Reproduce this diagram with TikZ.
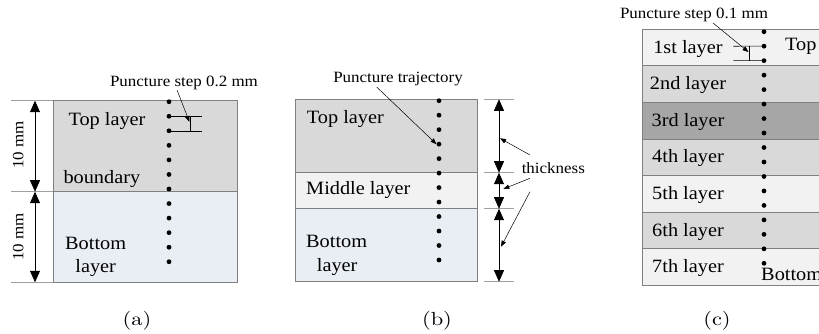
\documentclass[tikz,border=0pt]{standalone}
\usepackage{fontspec}
\setmainfont{Liberation Serif}[FakeStretch=1.08]
\newfontfamily\capfont{lmroman10-regular}[Extension=.otf,FakeStretch=1.18]
\usetikzlibrary{arrows.meta}

\definecolor{greyfill}{HTML}{D9D9D9}
\definecolor{palefill}{HTML}{F2F2F2}
\definecolor{bluefill}{HTML}{E9EDF4}
\definecolor{darkfill}{HTML}{A6A6A6}
\definecolor{edgegrey}{HTML}{808080}
\definecolor{extgrey}{HTML}{A0A0A0}

\tikzset{
  lab/.style={font=\fontsize{18.8}{20}\selectfont, inner sep=0pt},
  smalllab/.style={font=\fontsize{15.7}{17}\selectfont, inner sep=0pt},
  captext/.style={font=\capfont\fontsize{19}{21}\selectfont, inner sep=0pt},
  layerbox/.style={draw=edgegrey, line width=0.9pt},
  trackdot/.style={circle, fill=black, inner sep=0pt, minimum size=4.8pt},
  ext/.style={draw=extgrey, line width=0.8pt},
  dimline/.style={draw=black, line width=0.7pt,
    {Triangle[width=10pt,length=11.5pt]}-{Triangle[width=10pt,length=11.5pt]}},
  leader/.style={draw=black, line width=0.5pt, -{Triangle[width=4.5pt,length=6pt]}},
  thinline/.style={draw=black, line width=0.6pt},
}

\begin{document}
\begin{tikzpicture}[x=1pt,y=-1pt]
\useasboundingbox (0,0) rectangle (819,333);

% ---------------- (a) two layers ----------------
\fill[greyfill] (53.3,100.7) rectangle (237,191.7);
\fill[bluefill] (53.3,191.7) rectangle (237,282.3);
\draw[layerbox] (53.3,100.7) rectangle (237,282.3);
\draw[layerbox] (53.3,191.7) -- (237,191.7);

\coordinate (ae1) at (11,100.7);  \coordinate (ar1) at (53.3,100.7);
\coordinate (ae2) at (11,191.7);  \coordinate (ar2) at (53.3,191.7);
\coordinate (ae3) at (11,282.3);  \coordinate (ar3) at (53.3,282.3);
\draw[ext] (ae1) -- (ar1);
\draw[ext] (ae2) -- (ar2);
\draw[ext] (ae3) -- (ar3);
\coordinate (ad1) at (35,100.7);
\coordinate (ad2) at (35,191.7);
\coordinate (ad3) at (35,282.3);
\draw[dimline] (ad1) -- (ad2);
\draw[dimline] (ad2) -- (ad3);
\node[smalllab, rotate=90] (amm1) at (18.3,145) {10 mm};
\node[smalllab, rotate=90] (amm2) at (18.3,236.7) {10 mm};

\foreach \i in {0,...,11}
  \node[trackdot] (pa\i) at (169,101.7+14.55*\i) {};

\node[lab, anchor=west] (atop) at (68.3,121) {Top layer};
\node[lab, anchor=west] (abnd) at (63.3,179.3) {boundary};
\node[lab, anchor=west] (abot) at (65,243.3) {Bottom};
\node[lab] (alay) at (95.7,268.3) {layer};

% step marker
\coordinate (as1) at (202.3,116.25);
\coordinate (as2) at (202.3,130.8);
\coordinate (av1) at (190,116.25);
\coordinate (av2) at (190,130.8);
\draw[thinline] (pa1.center) -- (as1);
\draw[thinline] (pa2.center) -- (as2);
\draw[thinline] (av1) -- (av2);
\node[smalllab] (astep) at (184,82.7) {Puncture step 0.2 mm};
\coordinate (atip) at (189.5,122);
\draw[leader] (177,90) -- (atip);

\node[captext] (capa) at (137,320.7) {(a)};

% ---------------- (b) three layers ----------------
\fill[greyfill] (295.7,99.3) rectangle (477.3,172.7);
\fill[palefill] (295.7,172.7) rectangle (477.3,208.7);
\fill[bluefill] (295.7,208.7) rectangle (477.3,281.7);
\draw[layerbox] (295.7,99.3) rectangle (477.3,281.7);
\draw[layerbox] (295.7,172.7) -- (477.3,172.7);
\draw[layerbox] (295.7,208.7) -- (477.3,208.7);

\foreach \i in {0,...,11}
  \node[trackdot] (pb\i) at (439,100.7+14.48*\i) {};

\node[lab, anchor=west] (btop) at (306.7,119.3) {Top layer};
\node[lab, anchor=west] (bmid) at (306,190) {Middle layer};
\node[lab, anchor=west] (bbot) at (306,241.7) {Bottom};
\node[lab, anchor=west] (blay) at (316.7,267.3) {layer};

\coordinate (be1) at (484,99.3);   \coordinate (bf1) at (514.3,99.3);
\coordinate (be2) at (484,172.7);  \coordinate (bf2) at (514.3,172.7);
\coordinate (be3) at (484,208.7);  \coordinate (bf3) at (514.3,208.7);
\coordinate (be4) at (484,281.7);  \coordinate (bf4) at (514.3,281.7);
\draw[ext] (be1) -- (bf1);
\draw[ext] (be2) -- (bf2);
\draw[ext] (be3) -- (bf3);
\draw[ext] (be4) -- (bf4);
\coordinate (bd1) at (499,99.3);
\coordinate (bd2) at (499,172.7);
\coordinate (bd3) at (499,208.7);
\coordinate (bd4) at (499,281.7);
\draw[dimline] (bd1) -- (bd2);
\draw[dimline] (bd2) -- (bd3);
\draw[dimline] (bd3) -- (bd4);

\node[smalllab] (bthick) at (553.3,168.3) {thickness};
\coordinate (bt1) at (500,138.3);
\coordinate (bt2) at (503.3,189);
\coordinate (bt3) at (501,246.7);
\draw[leader] (530,155) -- (bt1);
\draw[leader] (530,178.3) -- (bt2);
\draw[leader] (530,191.7) -- (bt3);

\node[smalllab] (btraj) at (398,78.5) {Puncture trajectory};
\coordinate (btip) at (436.5,144.2);
\draw[leader] (376.7,87) -- (btip);

\node[captext] (capb) at (437,320.7) {(b)};

% ---------------- (c) seven layers ----------------
\foreach \k/\col in {0/palefill,1/greyfill,2/darkfill,3/greyfill,4/palefill,5/greyfill,6/palefill}
  \fill[\col] (642.3,29.3+36.6*\k) rectangle (830,29.3+36.6*\k+36.6);
\foreach \k in {1,...,6}
  \draw[layerbox] (642.3,29.3+36.6*\k) -- (830,29.3+36.6*\k);
\draw[layerbox] (830,29.3) -- (642.3,29.3) -- (642.3,285.5) -- (830,285.5);

\foreach \i in {0,...,16}
  \node[trackdot] (pc\i) at (764,31.7+14.475*\i) {};

\foreach \k/\txt in {0/1st layer,1/2nd layer,2/3rd layer,3/4th layer,4/5th layer,5/6th layer,6/7th layer}
  \node[lab] (cl\k) at (688,48.6+36.6*\k) {\txt};

\node[lab, anchor=west] (ctop) at (785,46) {Top};
\node[lab, anchor=west] (cbot) at (761,274) {Bottom};

% step marker
\coordinate (cs1) at (733.3,46.2);
\coordinate (cs2) at (733.3,60.65);
\coordinate (cv1) at (749.3,46.2);
\coordinate (cv2) at (749.3,60.65);
\draw[thinline] (cs1) -- (pc1.center);
\draw[thinline] (cs2) -- (pc2.center);
\draw[thinline] (cv1) -- (cv2);
\node[smalllab] (cstep) at (694,15) {Puncture step 0.1 mm};
\coordinate (ctip) at (748.5,52);
\draw[leader] (713,23) -- (ctip);

\node[captext] (capc) at (717,320.7) {(c)};
\end{tikzpicture}
\end{document}
